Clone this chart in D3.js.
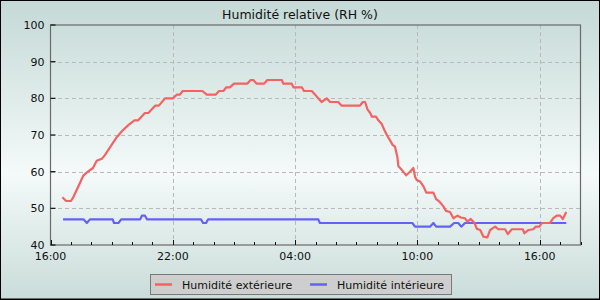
<!DOCTYPE html>
<html><head><meta charset="utf-8">
<script src="https://cdn.jsdelivr.net/npm/d3@7"></script>
<style>html,body{margin:0;padding:0;background:#fff}svg{display:block}text{font-family:"DejaVu Sans",sans-serif}</style>
</head><body>
<svg id="c" width="600" height="300"></svg>
<script>
const title = "Humidité relative (RH %)";
const seriesNames = ["Humidité extérieure", "Humidité intérieure"];
const yTicks = [40, 50, 60, 70, 80, 90, 100];
const xLabelFormat = "%H:%M";
const startClock = "16:00";
const spanHours = 26;
const majorStepHours = 6;

const outTimes = ["16:35","16:46","17:00","17:07","17:17","17:27","17:37","17:50","18:05","18:16","18:31","18:40","18:55","19:15","19:30","19:49","20:07","20:18","20:38","20:48","21:08","21:19","21:37","22:00","22:12","22:21","22:29","23:27","23:40","00:06","00:16","00:29","00:37","00:48","01:00","01:39","01:49","01:57","02:07","02:29","02:38","03:21","03:25","03:50","03:55","04:20","04:26","04:49","04:59","05:08","05:18","05:33","05:43","06:07","06:17","07:11","07:19","07:26","07:33","07:41","07:46","07:58","08:05","08:15","08:22","08:30","08:39","08:47","08:54","09:01","09:04","09:14","09:27","09:38","09:48","09:53","09:58","10:08","10:18","10:26","10:47","10:55","11:05","11:16","11:24","11:36","11:46","11:58","12:08","12:20","12:27","12:37","12:48","12:55","13:05","13:14","13:26","13:34","13:49","13:58","14:18","14:26","14:38","15:10","15:15","15:27","15:41","15:48","15:59","16:06","16:30","16:40","16:50","17:00","17:08","17:18"];
const outValues = [53,52,52,53,55,57,59,60,61,63,63.5,64.5,66.6,69.4,71,72.7,74,74,76,76,78,78,80,80,81,81,82,82,81,81,82,82,83,83,84,84,85,85,84,84,85,85,84,84,83,83,82,82,81,80,79,80,79,79,78,78,79,79,77,76,75,75,74,73,71.5,70,68.6,67.3,66.8,64,61.5,60.5,59,60,61,58.6,57.7,57.3,56,54.3,54.3,52.5,51.8,50.6,49.3,49,47.3,48,47.5,47.3,46.4,47.1,46,44.4,44.1,42.3,42.1,44.1,45,44.3,44.3,43,44.3,44.3,43.2,44.1,44.3,45,45,46,46,47.3,48,48,47.1,49];

const inTimes = ["16:37","17:37","17:47","17:56","19:03","19:07","19:20","19:28","20:24","20:29","20:38","20:44","23:23","23:29","23:38","23:44","05:08","05:13","09:45","09:53","10:37","10:47","10:55","11:36","11:48","12:00","12:09","12:20","17:18"];
const inValues = [47,47,46,47,47,46,46,47,47,48,48,47,47,46,46,47,47,46,46,45,45,46,45,45,46,46,45,46,46];

const colors = ["#f46262", "#6262fa"];

function toDates(times){
  let day = 0, prev = -1, out = [];
  for (const t of times){
    const [h,m] = t.split(":").map(Number);
    const mm = h*60+m;
    if (mm < prev) day++;
    prev = mm;
    out.push(new Date(2024,0,1+day,h,m));
  }
  return out;
}
const [sh, sm] = startClock.split(":").map(Number);
const t0 = new Date(2024,0,1,sh,sm);
const t1 = d3.timeHour.offset(t0, spanHours);

const svg = d3.select("#c");
const W = 600, H = 300;
const M = {l:50.5, r:580.5, t:25, b:245};

const defs = svg.append("defs");
const g = defs.append("linearGradient").attr("id","bg").attr("x1",0).attr("y1",0).attr("x2",0).attr("y2",1);
g.append("stop").attr("offset","0").attr("stop-color","#c4d9d6");
g.append("stop").attr("offset","0.58").attr("stop-color","#f4faf9");
g.append("stop").attr("offset","1").attr("stop-color","#c9dcd9");
svg.append("rect").attr("width",W).attr("height",H).attr("fill","url(#bg)");

const x = d3.scaleTime().domain([t0,t1]).range([M.l, M.r]);
const y = d3.scaleLinear().domain([40,100]).range([M.b, M.t]);

const minors = d3.range(0, spanHours+1).map(k => d3.timeHour.offset(t0, k));
const isMajor = d => (Math.round((d - t0)/3600000) % majorStepHours) === 0;
const majors = minors.filter(isMajor);

// grid
const grid = svg.append("g").attr("stroke","#b9b9b9").attr("stroke-width",1).attr("stroke-dasharray","4,3").attr("shape-rendering","crispEdges");
grid.selectAll("line.h").data(yTicks.filter(v=>v>40 && v<100)).join("line")
  .attr("x1",M.l).attr("x2",M.r).attr("y1",d=>Math.round(y(d))+0.5).attr("y2",d=>Math.round(y(d))+0.5);
grid.selectAll("line.v").data(majors.filter(d=>+d>+t0 && +d<+t1)).join("line")
  .attr("y1",M.t).attr("y2",M.b).attr("x1",d=>Math.round(x(d))+0.5).attr("x2",d=>Math.round(x(d))+0.5);

// lines
const line = d3.line().x(d=>x(d[0])).y(d=>y(d[1]));
const outData = d3.zip(toDates(outTimes), outValues);
const inData = d3.zip(toDates(inTimes), inValues);
svg.append("path").datum(inData).attr("d",line).attr("fill","none").attr("stroke",colors[1]).attr("stroke-width",2.2).attr("stroke-linejoin","round");
svg.append("path").datum(outData).attr("d",line).attr("fill","none").attr("stroke",colors[0]).attr("stroke-width",2.2).attr("stroke-linejoin","round");

// frame
svg.append("rect").attr("x",M.l).attr("y",M.t).attr("width",M.r-M.l).attr("height",M.b-M.t)
  .attr("fill","none").attr("stroke","#6a6a6a").attr("stroke-width",1.2);

// y axis ticks (inside) and labels
const ya = svg.append("g");
ya.selectAll("line").data(yTicks).join("line")
  .attr("x1",M.l).attr("x2",M.l+5).attr("y1",d=>y(d)).attr("y2",d=>y(d)).attr("stroke","#111").attr("stroke-width",1.2);
ya.selectAll("text").data(yTicks).join("text")
  .attr("x",M.l-6).attr("y",d=>y(d)).attr("dy","0.35em").attr("text-anchor","end")
  .attr("font-size",11).attr("fill","#111").text(d=>d);

// x axis ticks
const xa = svg.append("g");
xa.selectAll("line").data(minors).join("line")
  .attr("x1",d=>Math.round(x(d))+0.5).attr("x2",d=>Math.round(x(d))+0.5)
  .attr("y1",M.b).attr("y2",d=>M.b-(isMajor(d)?5:3))
  .attr("stroke","#111").attr("stroke-width",1);
const fmt = d3.timeFormat(xLabelFormat);
xa.selectAll("text").data(majors).join("text")
  .attr("x",d=>x(d)).attr("y",M.b+14.5).attr("text-anchor","middle")
  .attr("font-size",11).attr("fill","#111").text(d=>fmt(d));

// title
svg.append("text").attr("x",300).attr("y",18.5).attr("text-anchor","middle").attr("font-size",12.5).attr("fill","#111").text(title);

// legend
const lg = svg.append("g");
lg.append("rect").attr("x",150.5).attr("y",274.5).attr("width",301).attr("height",20).attr("fill","#cecece").attr("stroke","#7a7a7a").attr("stroke-width",1);
const lx = [155, 310];
seriesNames.forEach((n,i)=>{
  lg.append("line").attr("x1",lx[i]).attr("x2",lx[i]+17).attr("y1",284.5).attr("y2",284.5).attr("stroke",colors[i]).attr("stroke-width",2.5);
  lg.append("text").attr("x",lx[i]+27).attr("y",288.5).attr("font-size",11).attr("fill","#111").text(n);
});

// outer border
svg.append("rect").attr("x",0.5).attr("y",0.5).attr("width",W-1).attr("height",H-1.5).attr("fill","none").attr("stroke","#000").attr("stroke-width",1);
svg.append("line").attr("x1",0).attr("x2",W).attr("y1",299.5).attr("y2",299.5).attr("stroke","#000").attr("stroke-width",1);
</script>
</body></html>
